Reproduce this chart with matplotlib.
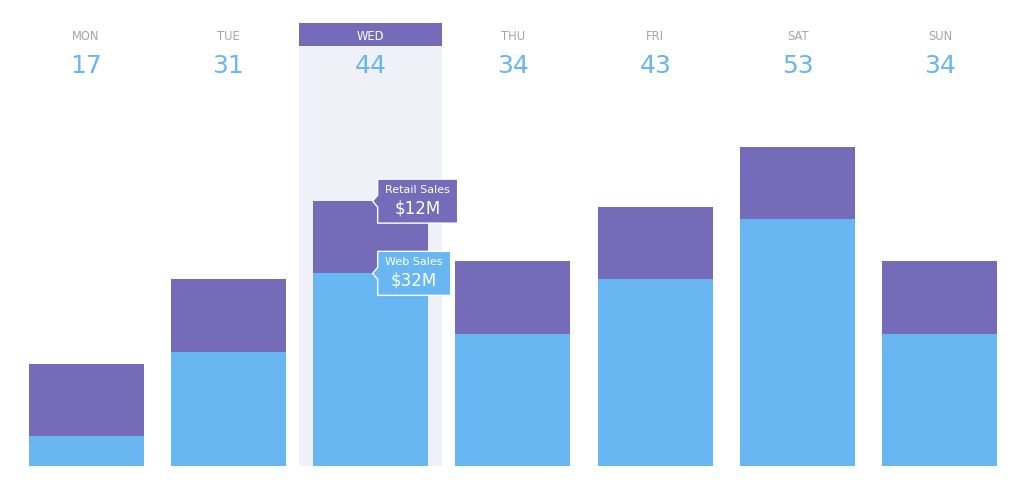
import matplotlib
matplotlib.use("Agg")
import matplotlib.pyplot as plt
import matplotlib.transforms as mtransforms
from matplotlib.patches import Polygon, Rectangle

days = ["MON", "TUE", "WED", "THU", "FRI", "SAT", "SUN"]
web_sales = [5, 19, 32, 22, 31, 41, 22]
retail_sales = [12, 12, 12, 12, 12, 12, 12]
totals = [w + r for w, r in zip(web_sales, retail_sales)]
highlight = "WED"

BLUE = "#68b6f2"
PURPLE = "#756cb9"
BAND = "#f0f0f8"
GRAY = "#a6a6a6"

plt.rcParams["font.family"] = ["DejaVu Sans"]
fig = plt.figure(figsize=(10.25, 4.9), dpi=100)
ax = fig.add_axes([0, 0, 1, 1])
ax.set_axis_off()

px_per_unit = 6.02
slot = 142.33
ax.set_xlim(-86.0 / slot, (1025 - 86.0) / slot)
ax.set_ylim(-24 / px_per_unit, 466 / px_per_unit)

x = list(range(len(days)))
width = 115 / slot

hi = days.index(highlight)
band_top_frac = 1 - 23 / 490
band_bot_frac = 24 / 490
bt = mtransforms.blended_transform_factory(ax.transData, ax.transAxes)
ax.add_patch(Rectangle((hi - 0.5 * 143 / slot, band_bot_frac), 143 / slot,
                       band_top_frac - band_bot_frac, transform=bt,
                       facecolor=BAND, edgecolor="none", zorder=0))
ax.add_patch(Rectangle((hi - 0.5 * 143 / slot, 1 - 46 / 490), 143 / slot,
                       23 / 490, transform=bt,
                       facecolor=PURPLE, edgecolor="none", zorder=1))

ax.bar(x, web_sales, width=width, color=BLUE, zorder=2)
ax.bar(x, retail_sales, width=width, bottom=web_sales, color=PURPLE, zorder=2)

for i, d in enumerate(days):
    ax.text(i, 1 - 36 / 490, d, transform=bt, ha="center", va="center",
            fontsize=8.3, color="white" if i == hi else GRAY, zorder=3)
    ax.text(i, 1 - 66 / 490, str(totals[i]), transform=bt, ha="center",
            va="center", fontsize=18, color=BLUE, zorder=3)


def tooltip(xc, yc, label, value, color, boxw):
    tr = mtransforms.IdentityTransform() + mtransforms.ScaledTranslation(
        xc, yc, ax.transData)
    verts = [(7, -22), (7 + boxw, -22), (7 + boxw, 22), (7, 22),
             (7, 6), (2, 0), (7, -6)]
    ax.add_patch(Polygon(verts, closed=True, transform=tr, facecolor=color,
                         edgecolor="white", lw=1, zorder=5))
    cx = 7 + boxw / 2
    ax.text(cx, 11, label, transform=tr, ha="center", va="center",
            fontsize=8, color="white", zorder=6)
    ax.text(cx, -7, value, transform=tr, ha="center", va="center",
            fontsize=12, color="white", zorder=6)


tooltip(hi, totals[hi], "Retail Sales", f"${retail_sales[hi]}M", PURPLE, 80)
tooltip(hi, web_sales[hi], "Web Sales", f"${web_sales[hi]}M", BLUE, 73)

fig.savefig("out.png", dpi=100)
